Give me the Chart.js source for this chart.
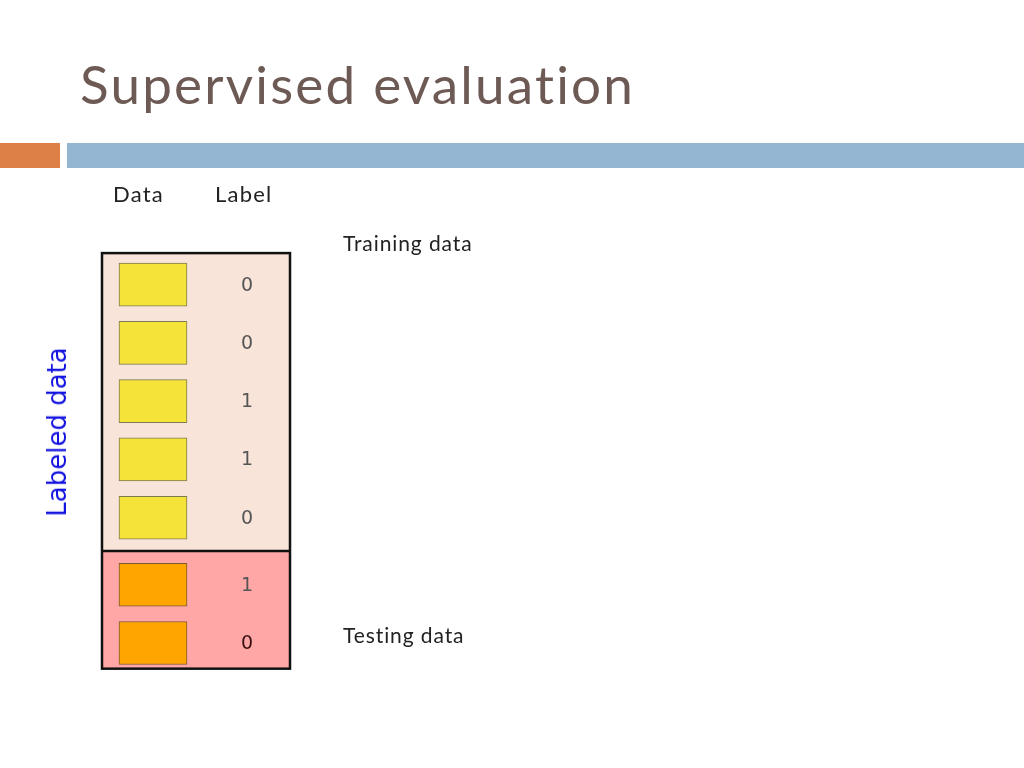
<!DOCTYPE html>
<html>
<head>
<meta charset="utf-8">
<script src="https://cdn.jsdelivr.net/npm/chart.js@4.4.1/dist/chart.umd.min.js"></script>
<style>
  html, body { margin: 0; padding: 0; background: #fff; }
  #wrap { position: relative; width: 1024px; height: 768px; overflow: hidden; font-family: "Lato", "Noto Sans", sans-serif; }
  #chart { position: absolute; left: 0; top: 0; width: 1024px; height: 768px; }
  .t { position: absolute; white-space: nowrap; color: #222; }
  #title { left: 80px; top: 52px; font-size: 53px; letter-spacing: 2.2px; color: #6e5a55; }
  #barL { position: absolute; left: 0; top: 143px; width: 60px; height: 25px; background: #dd8047; }
  #barR { position: absolute; left: 67px; top: 143px; width: 957px; height: 25px; background: #94b6d2; }
  #side { left: 57px; top: 432px; font-size: 26px; font-family: "DejaVu Sans", sans-serif; color: #1414e0; transform: translate(-50%, -50%) rotate(-90deg); }
  .h { font-size: 22px; letter-spacing: 1.2px; top: 180px; }
  .s { font-size: 21px; letter-spacing: 0.9px; }
</style>
</head>
<body>
<div id="wrap">
  <div class="t" id="title">Supervised evaluation</div>
  <div id="barL"></div><div id="barR"></div>
  <canvas id="chart" width="1024" height="768"></canvas>
  <div class="t h" style="left:113px">Data</div>
  <div class="t h" style="left:215px">Label</div>
  <div class="t s" style="left:343px;top:230px">Training data</div>
  <div class="t s" style="left:343px;top:622px">Testing data</div>
  <div class="t" id="side">Labeled data</div>
</div>
<script>
// labels of each sample, top to bottom
var sampleLabels = [0, 0, 1, 1, 0, 1, 0];
var trainingCount = 5;
var sectionGap = 0.15; // extra row units between training and testing

var rows = sampleLabels.map(function (_, i) { return i + (i >= trainingCount ? sectionGap : 0); });
var trainRows = rows.slice(0, trainingCount);
var testRows = rows.slice(trainingCount);

var ROW = 68, FIRST = 268;

var fitRows = {
  id: "fitRows",
  afterRender: function (chart) {
    if (chart._rowsFitted) return;
    chart._rowsFitted = true;
    var ca = chart.chartArea;
    var min = -(FIRST - ca.top) / ROW;
    chart.options.scales.y.min = min;
    chart.options.scales.y.max = min + (ca.bottom - ca.top) / ROW;
    chart.update("none");
  }
};

var panels = {
  id: "panels",
  beforeDatasetsDraw: function (chart) {
    var ctx = chart.ctx, x = chart.scales.x, y = chart.scales.y;
    var left = x.getPixelForValue(102), right = x.getPixelForValue(290);
    var top = y.getPixelForValue(-0.54);
    var mid = y.getPixelForValue(trainRows[trainRows.length - 1] + 0.57);
    var bot = y.getPixelForValue(testRows[testRows.length - 1] + 0.44);
    ctx.save();
    ctx.fillStyle = "#f8e4d8"; ctx.fillRect(left, top, right - left, mid - top);
    ctx.fillStyle = "#ffa6a6"; ctx.fillRect(left, mid, right - left, bot - mid);
    ctx.lineWidth = 2.5; ctx.strokeStyle = "#111";
    ctx.strokeRect(left, top, right - left, bot - top);
    ctx.beginPath(); ctx.moveTo(left, mid); ctx.lineTo(right, mid); ctx.stroke();
    ctx.restore();
  },
  afterDatasetsDraw: function (chart) {
    var ctx = chart.ctx, x = chart.scales.x, y = chart.scales.y;
    ctx.save();
    ctx.font = '19px "DejaVu Sans", sans-serif';
    ctx.textAlign = "center"; ctx.textBaseline = "middle";
    sampleLabels.forEach(function (v, i) {
      ctx.fillStyle = i === sampleLabels.length - 1 ? "#3a1010" : "#555";
      ctx.fillText(String(v), x.getPixelForValue(247), y.getPixelForValue(rows[i]) + 1);
    });
    ctx.restore();
  }
};

new Chart(document.getElementById("chart"), {
  type: "bar",
  data: {
    datasets: [
      { data: trainRows.map(function (r) { return { x: [119, 187], y: r }; }),
        backgroundColor: "#f5e33a", borderColor: "#7d7a50", borderWidth: 1, borderSkipped: false },
      { data: testRows.map(function (r) { return { x: [119, 187], y: r }; }),
        backgroundColor: "#ffa500", borderColor: "#7a5a30", borderWidth: 1, borderSkipped: false }
    ]
  },
  options: {
    indexAxis: "y",
    responsive: false,
    animation: false,
    layout: { padding: 0 },
    plugins: { legend: { display: false }, tooltip: { enabled: false } },
    datasets: { bar: { barThickness: 43, grouped: false } },
    scales: {
      x: { type: "linear", min: 0, max: 1024, display: false },
      y: { type: "linear", min: -3.94, max: 7.35, reverse: true, display: false }
    }
  },
  plugins: [fitRows, panels]
});
</script>
</body>
</html>
